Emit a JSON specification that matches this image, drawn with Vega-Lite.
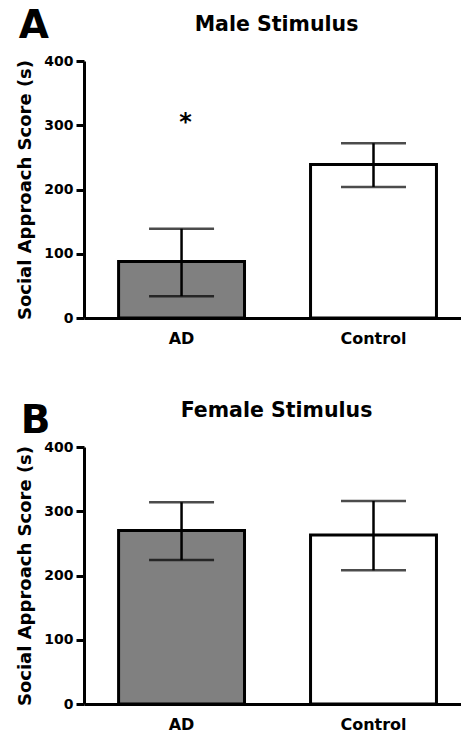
{
  "$schema": "https://vega.github.io/schema/vega-lite/v6.json",
  "background": "white",
  "padding": {"left": 16, "top": 6, "right": 0, "bottom": 0},
  "datasets": {
    "male": [
      {"group": "AD", "mean": 88, "lo": 34, "hi": 139, "sig": "*", "sigY": 304},
      {"group": "Control", "mean": 239, "lo": 204, "hi": 272, "sig": "", "sigY": 0}
    ],
    "female": [
      {"group": "AD", "mean": 270, "lo": 224, "hi": 314, "sig": "", "sigY": 0},
      {"group": "Control", "mean": 263, "lo": 208, "hi": 316, "sig": "", "sigY": 0}
    ]
  },
  "config": {
    "font": "DejaVu Sans",
    "view": {"stroke": null},
    "concat": {"spacing": 54},
    "axis": {
      "grid": false,
      "labelFont": "DejaVu Sans",
      "labelFontWeight": "bold",
      "labelColor": "black",
      "titleFont": "DejaVu Sans",
      "titleFontWeight": "bold",
      "titleColor": "black",
      "domainColor": "black",
      "domainWidth": 3,
      "tickColor": "black",
      "tickWidth": 3
    },
    "title": {"font": "DejaVu Sans", "fontWeight": "bold", "color": "black"}
  },
  "vconcat": [
    {
      "title": {"text": "A", "anchor": "start", "frame": "bounds", "fontSize": 39, "dy": 35, "dx": 2},
      "vconcat": [
        {
          "width": 377,
          "height": 257,
          "title": {"text": "Male Stimulus", "fontSize": 20.5, "anchor": "middle", "offset": 19, "dx": 4},
          "data": {"name": "male"},
          "encoding": {
            "x": {
              "field": "group", "type": "nominal", "sort": null,
              "scale": {"paddingInner": 0.344, "paddingOuter": 0.154, "align": 0.585},
              "axis": {"title": null, "labelAngle": 0, "ticks": false, "labelFontSize": 16, "labelPadding": 12}
            }
          },
          "layer": [
            {
              "mark": {"type": "bar", "stroke": "black", "strokeWidth": 3},
              "encoding": {
                "y": {
                  "field": "mean", "type": "quantitative",
                  "scale": {"domain": [0, 400], "nice": false},
                  "axis": {"title": "Social Approach Score (s)", "titleFontSize": 18, "values": [0, 100, 200, 300, 400], "labelFontSize": 14, "tickSize": 8, "labelPadding": 3, "titlePadding": 9}
                },
                "color": {"field": "group", "type": "nominal", "scale": {"domain": ["AD", "Control"], "range": ["#808080", "#ffffff"]}, "legend": null}
              }
            },
            {
              "mark": {"type": "rule", "color": "black", "strokeWidth": 2.5},
              "encoding": {"y": {"field": "lo", "type": "quantitative"}, "y2": {"field": "hi"}}
            },
            {
              "mark": {"type": "tick", "color": "black", "size": 65, "thickness": 2.5},
              "encoding": {"y": {"field": "lo", "type": "quantitative"}}
            },
            {
              "mark": {"type": "tick", "color": "black", "size": 65, "thickness": 2.5},
              "encoding": {"y": {"field": "hi", "type": "quantitative"}}
            },
            {
              "mark": {"type": "text", "fontSize": 24, "fontWeight": "bold", "color": "black", "baseline": "middle", "dx": 4},
              "encoding": {"y": {"field": "sigY", "type": "quantitative"}, "text": {"field": "sig"}}
            }
          ]
        }
      ]
    },
    {
      "title": {"text": "B", "anchor": "start", "frame": "bounds", "fontSize": 39, "dy": 44, "dx": 4},
      "vconcat": [
        {
          "width": 377,
          "height": 257,
          "title": {"text": "Female Stimulus", "fontSize": 20.5, "anchor": "middle", "offset": 19, "dx": 4},
          "data": {"name": "female"},
          "encoding": {
            "x": {
              "field": "group", "type": "nominal", "sort": null,
              "scale": {"paddingInner": 0.344, "paddingOuter": 0.154, "align": 0.585},
              "axis": {"title": null, "labelAngle": 0, "ticks": false, "labelFontSize": 16, "labelPadding": 12}
            }
          },
          "layer": [
            {
              "mark": {"type": "bar", "stroke": "black", "strokeWidth": 3},
              "encoding": {
                "y": {
                  "field": "mean", "type": "quantitative",
                  "scale": {"domain": [0, 400], "nice": false},
                  "axis": {"title": "Social Approach Score (s)", "titleFontSize": 18, "values": [0, 100, 200, 300, 400], "labelFontSize": 14, "tickSize": 8, "labelPadding": 3, "titlePadding": 9}
                },
                "color": {"field": "group", "type": "nominal", "scale": {"domain": ["AD", "Control"], "range": ["#808080", "#ffffff"]}, "legend": null}
              }
            },
            {
              "mark": {"type": "rule", "color": "black", "strokeWidth": 2.5},
              "encoding": {"y": {"field": "lo", "type": "quantitative"}, "y2": {"field": "hi"}}
            },
            {
              "mark": {"type": "tick", "color": "black", "size": 65, "thickness": 2.5},
              "encoding": {"y": {"field": "lo", "type": "quantitative"}}
            },
            {
              "mark": {"type": "tick", "color": "black", "size": 65, "thickness": 2.5},
              "encoding": {"y": {"field": "hi", "type": "quantitative"}}
            }
          ]
        }
      ]
    }
  ]
}
